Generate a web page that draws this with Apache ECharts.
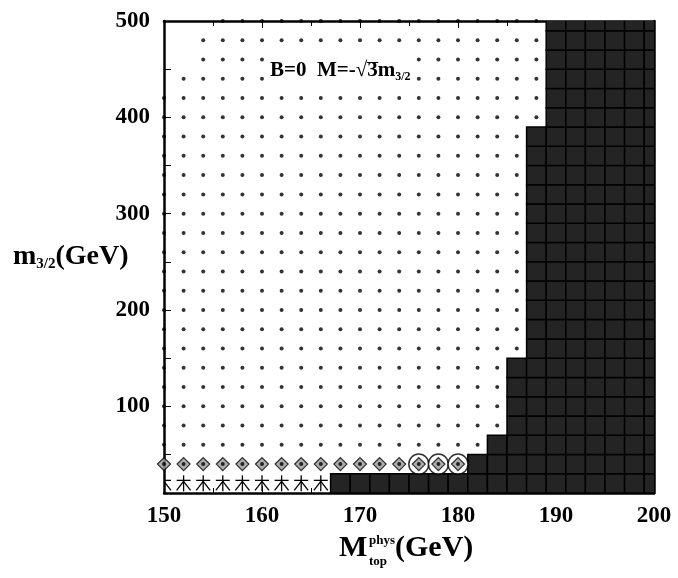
<!DOCTYPE html>
<html><head><meta charset="utf-8">
<script src="https://cdn.jsdelivr.net/npm/echarts@6/dist/echarts.min.js"></script>
<style>html,body{margin:0;padding:0;background:#fff}#c{width:678px;height:578px}</style>
</head><body><div id="c"></div>
<script>
// ---- data ----
const xTickLabels = [150, 160, 170, 180, 190, 200];
const yTickLabels = [100, 200, 300, 400, 500];
const yTickValues = [50, 100, 150, 200, 250, 300, 350, 400, 450, 500];
const columns = [150,152,154,156,158,160,162,164,166,168,170,172,174,176,178,180,182,184,186,188,190,192,194,196,198,200];
const rows = [20,40,60,80,100,120,140,160,180,200,220,240,260,280,300,320,340,360,380,400,420,440,460,480,500];
// highest m3/2 row that is excluded (black cell) in each column; 0 = none
const blackTopByColumn = [0,0,0,0,0,0,0,0,0,20,20,20,20,20,20,20,40,60,140,380,500,500,500,500,500,500];
// highest row holding a dot in each column
const dotTopByColumn = [420,440,480,500,500,500,500,500,500,500,500,500,500,500,500,500,500,500,500,500,500,500,500,500,500,500];
const dotBottomRow = 60;
const starColumns = [150,152,154,156,158,160,162,164,166];     // row m3/2 = 20
const starRow = 20;
const diamondColumns = [150,152,154,156,158,160,162,164,166,168,170,172,174,176,178,180]; // row 40
const circledColumns = [176,178,180];
const diamondRow = 40;

// ---- build series data ----
const blackCells = [], dots = [];
columns.forEach((c, i) => {
  rows.forEach(r => {
    if (r <= blackTopByColumn[i]) blackCells.push([c, r]);
    else if (r >= dotBottomRow && r <= dotTopByColumn[i]) dots.push([c, r]);
  });
});
const stars = starColumns.map(c => [c, starRow]);
const diamonds = diamondColumns.map(c => [c, diamondRow]);
const circles = circledColumns.map(c => [c, diamondRow]);

const FONT = '"Liberation Serif", "DejaVu Serif", serif';

// measure annotation text for the overline on the 3
const mctx = document.createElement('canvas').getContext('2d');
mctx.font = 'bold 21px "Liberation Serif"';
const annLeft = 266, annPadX = 4;
const preW = mctx.measureText('B=0  M=-√').width;
const threeW = mctx.measureText('3').width;
const olX1 = annLeft + annPadX + preW - 0.5;
const olX2 = olX1 + threeW + 1;

const chart = echarts.init(document.getElementById('c'), null, {renderer: 'canvas'});

const axisCommon = {
  type: 'value',
  splitLine: {show: false},
  axisLine: {show: true, onZero: false, lineStyle: {color: '#000', width: 2.5}},
};

const option = {
  backgroundColor: '#fff',
  animation: false,
  grid: {left: 164, right: 24, top: 21, bottom: 85},
  xAxis: [
    Object.assign({}, axisCommon, {
      min: 150, max: 200, interval: 10, position: 'bottom',
      axisTick: {inside: true, length: 7, lineStyle: {color: '#000', width: 1}},
      minorTick: {show: true, splitNumber: 2, length: 5, lineStyle: {color: '#000', width: 1}},
      axisLabel: {color: '#000', fontFamily: FONT, fontWeight: 'bold', fontSize: 23, margin: 12,
        customValues: xTickLabels}
    }),
    Object.assign({}, axisCommon, {
      min: 150, max: 200, interval: 10, position: 'top',
      axisTick: {inside: true, length: 7, lineStyle: {color: '#000', width: 1}},
      minorTick: {show: true, splitNumber: 2, length: 5, lineStyle: {color: '#000', width: 1}},
      axisLabel: {show: false}
    })
  ],
  yAxis: [
    Object.assign({}, axisCommon, {
      min: 10, max: 500, position: 'left',
      axisTick: {inside: true, length: 7, customValues: yTickValues, lineStyle: {color: '#000', width: 1}},
      axisLabel: {color: '#000', fontFamily: FONT, fontWeight: 'bold', fontSize: 23, margin: 14,
        customValues: yTickLabels}
    }),
    Object.assign({}, axisCommon, {
      min: 10, max: 500, position: 'right',
      axisTick: {inside: true, length: 7, customValues: yTickValues, lineStyle: {color: '#000', width: 1}},
      axisLabel: {show: false}
    })
  ],
  series: [
    {
      type: 'custom', clip: true, data: blackCells, z: 2,
      renderItem(params, api) {
        const c = api.coord([api.value(0), api.value(1)]);
        const s = api.size([2, 20]);
        return {type: 'rect',
          shape: {x: c[0] - s[0] / 2, y: c[1] - s[1] / 2, width: s[0], height: s[1]},
          style: {fill: '#242424', stroke: '#000', lineWidth: 1.5}};
      }
    },
    {
      type: 'scatter', data: dots, symbol: 'circle', symbolSize: 4, z: 3,
      itemStyle: {color: '#000'}, silent: true
    },
    {
      type: 'custom', clip: true, data: stars, z: 3,
      renderItem(params, api) {
        const c = api.coord([api.value(0), api.value(1)]);
        const x = c[0], y = c[1];
        const st = {stroke: '#000', lineWidth: 1.3};
        return {type: 'group', children: [
          {type: 'line', shape: {x1: x, y1: y - 8, x2: x, y2: y + 8}, style: st},
          {type: 'line', shape: {x1: x - 7, y1: y - 3, x2: x + 7, y2: y - 3}, style: st},
          {type: 'line', shape: {x1: x, y1: y - 2, x2: x - 7, y2: y + 7}, style: st},
          {type: 'line', shape: {x1: x, y1: y - 2, x2: x + 7, y2: y + 7}, style: st}
        ]};
      }
    },
    {
      type: 'scatter', data: circles, symbol: 'circle', symbolSize: 20, z: 3,
      itemStyle: {color: '#fff', borderColor: '#000', borderWidth: 1.5}
    },
    {
      type: 'scatter', data: diamonds, symbol: 'diamond', symbolSize: 13, z: 4,
      itemStyle: {color: '#999', borderColor: '#000', borderWidth: 1.2}
    },
    {
      type: 'scatter', data: diamonds, symbol: 'circle', symbolSize: 4, z: 5,
      itemStyle: {color: '#000'}
    }
  ],
  graphic: [
    {
      type: 'text', left: annLeft, top: 57, z: 100,
      style: {
        text: '{a|B=0  M=-√3m}{s|3/2}',
        backgroundColor: '#fff', padding: [2, annPadX, 2, annPadX],
        rich: {
          a: {fontFamily: FONT, fontWeight: 'bold', fontSize: 21, lineHeight: 24, fill: '#000'},
          s: {fontFamily: FONT, fontWeight: 'bold', fontSize: 12, lineHeight: 10, verticalAlign: 'bottom', fill: '#000'}
        }
      }
    },
    {type: 'line', z: 101, shape: {x1: olX1, y1: 62.5, x2: olX2, y2: 62.5}, style: {stroke: '#000', lineWidth: 1}},
    {
      type: 'text', left: 13, top: 243, z: 100,
      style: {
        text: '{a|m}{s|3/2}{a|(GeV)}',
        rich: {
          a: {fontFamily: FONT, fontWeight: 'bold', fontSize: 28, lineHeight: 30, fill: '#000'},
          s: {fontFamily: FONT, fontWeight: 'bold', fontSize: 15, lineHeight: 12, verticalAlign: 'bottom', fill: '#000'}
        }
      }
    },
    {type: 'text', left: 339, top: 533, z: 100,
      style: {text: 'M', fontFamily: FONT, fontWeight: 'bold', fontSize: 30, fill: '#000'}},
    {type: 'text', left: 369, top: 534, z: 100,
      style: {text: 'phys', fontFamily: FONT, fontWeight: 'bold', fontSize: 13, fill: '#000'}},
    {type: 'text', left: 369, top: 555, z: 100,
      style: {text: 'top', fontFamily: FONT, fontWeight: 'bold', fontSize: 13, fill: '#000'}},
    {type: 'text', left: 395, top: 533, z: 100,
      style: {text: '(GeV)', fontFamily: FONT, fontWeight: 'bold', fontSize: 30, fill: '#000'}}
  ]
};
chart.setOption(option);
</script>
</body></html>
